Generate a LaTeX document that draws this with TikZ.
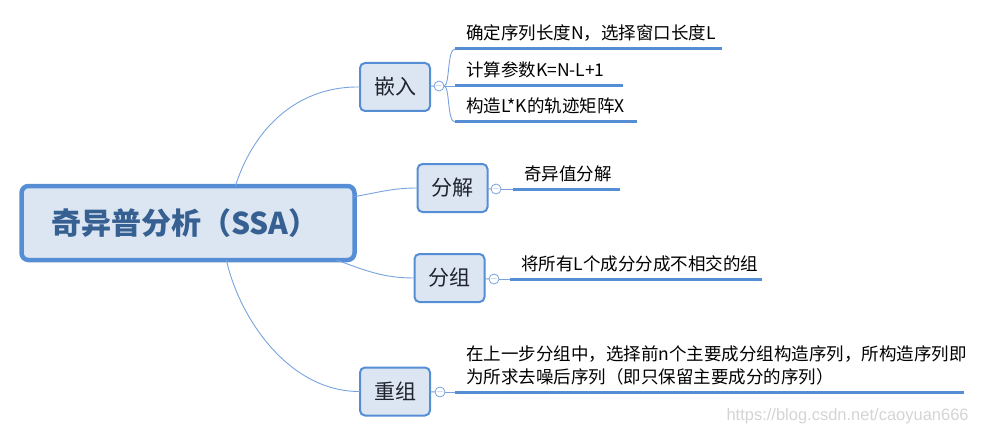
\documentclass[tikz,border=0pt]{standalone}
\usepackage{fontspec}
\setmainfont{Noto Sans CJK SC}
\newfontfamily\wmfont{Liberation Sans}
\usepackage{tikz}
\definecolor{mmBlue}{RGB}{85,142,213}
\definecolor{mmFill}{RGB}{220,230,242}
\definecolor{mmNavy}{RGB}{54,96,146}
\definecolor{mmLine}{RGB}{120,163,222}
\definecolor{mmInk}{RGB}{30,35,45}
\definecolor{mmMark}{RGB}{212,212,212}

\begin{document}
\begin{tikzpicture}[x=1pt, y=-1pt]%
  \tikzset{root/.style={draw=mmBlue, fill=mmFill, line width=4.5pt, rounded corners=7pt, minimum width=333pt, minimum height=74pt, text=mmNavy, font=\fontsize{30}{30}\selectfont\bfseries},
    topic/.style={draw=mmBlue, fill=mmFill, line width=2pt, rounded corners=5pt, minimum width=70pt, minimum height=48pt, text=mmInk, font=\fontsize{21}{21}\selectfont},
    fold/.style={circle, draw=mmLine, fill=white, line width=0.8pt, minimum size=10pt, inner sep=0pt, text=mmLine, font=\fontsize{9}{9}\selectfont},
    leaf/.style={anchor=south west, align=left, inner xsep=11pt, inner ysep=6pt, text height=14pt, text depth=3pt, text=black, font=\fontsize{17.5}{23}\selectfont},
    branch/.style={draw=mmLine, line width=0.9pt},
    leaf line/.style={draw=mmBlue, line width=3pt}}
  \tikzstyle{every node}=[outer sep=0pt]
  \useasboundingbox (0,0) rectangle (982,433);

  \node[root] at (188,223) (ssa) {\hspace*{-6pt}奇异普分析（SSA）};
  \node[topic] at (395,87) (embed) {嵌入};
  \node[topic] at (452.5,188) (decomp) {分解};
  \node[topic] at (449.5,278) (group) {分组};
  \node[topic] at (395,391.5) (recon) {重组};

  \node[fold] at (439,86) (f1) {$-$};
  \node[fold] at (496,189) (f2) {$-$};
  \node[fold] at (494,279) (f3) {$-$};
  \node[fold] at (440,392) (f4) {$-$};

  \node[leaf, text width=245pt] at (455,49) (l1) {确定序列长度N，选择窗口长度L};
  \node[leaf, text width=146pt] at (455,86) (l2) {计算参数K=N-L+1};
  \node[leaf, text width=160pt] at (455,122) (l3) {构造L*K的轨迹矩阵X};
  \node[leaf, text width=85pt] at (513,189) (l4) {奇异值分解};
  \node[leaf, text width=230pt] at (510,279) (l5) {将所有L个成分分成不相交的组};
  \node[leaf, text width=487pt, text depth=26pt] at (455,392) (l6) {在上一步分组中，选择前n个主要成分组构造序列，所构造序列即\\为所求去噪后序列（即只保留主要成分的序列）};

  \node[anchor=east, text=mmMark, font=\wmfont\fontsize{16.5}{16.5}\selectfont] at (972,416) (wm) {https://blog.csdn.net/caoyuan666};

  % root to topics
  \draw[branch] (ssa.38) .. controls (255,125) and (300,86) .. (embed.west);
  \draw[branch] (ssa.9) to[out=10, in=180] (decomp.west);
  \draw[branch] (ssa.-14) to[out=-20, in=180] (group.west);
  \draw[branch] (ssa.-44) .. controls (240,320) and (290,392) .. (recon.west);

  % topics to folds
  \path[branch] (embed) edge (f1) (decomp) edge (f2) (group) edge (f3) (recon) edge (f4);

  % folds to leaves
  \draw[branch] (f1.east) .. controls +(6,0) and +(-8,0) .. (l1.south west);
  \draw[branch] (f1.east) -- (l2.south west);
  \draw[branch] (f1.east) .. controls +(6,0) and +(-8,0) .. (l3.south west);
  \draw[branch] (f2.east) -- (l4.south west);
  \draw[branch] (f3.east) -- (l5.south west);
  \draw[branch] (f4.east) -- (l6.south west);

  \foreach \leafname in {l1,l2,l3,l4,l5,l6}
    \draw[leaf line] (\leafname.south west) -- (\leafname.south east);

\end{tikzpicture}
\end{document}
